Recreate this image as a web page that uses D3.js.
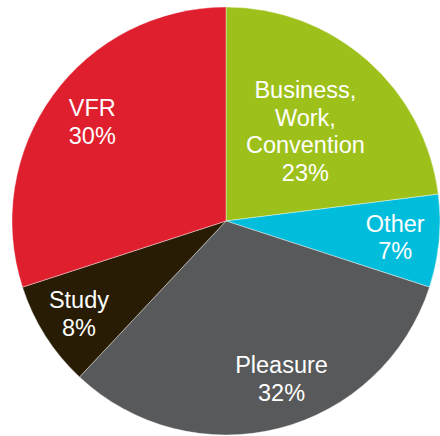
<!DOCTYPE html>
<html>
<head>
<meta charset="utf-8">
<script src="https://cdn.jsdelivr.net/npm/d3@7"></script>
<style>
  html, body { margin: 0; padding: 0; background: #fff; }
  svg { display: block; }
</style>
</head>
<body>
<svg id="chart" width="440" height="436"></svg>
<script>
// Trip purpose shares, clockwise from 12 o'clock
const categories = ["Business, Work, Convention", "Other", "Pleasure", "Study", "VFR"];
const labelLines = [["Business,", "Work,", "Convention"], ["Other"], ["Pleasure"], ["Study"], ["VFR"]];
const shares = [23, 7, 32, 8, 30];
const colors = ["#9dc11a", "#00bedb", "#58595b", "#281d04", "#df1e2e"];

const width = 440, height = 436;
const cx = 226, cy = 221, radius = 214;
const fontSize = 23.5, lineHeight = 27.5;

// label placement: radius along the slice bisector plus a small nudge
const labelPlace = {
  "Business, Work, Convention": { r: 120, dx: 0, dy: 0 },
  "Other": { r: 170, dx: 0, dy: 0 },
  "Pleasure": { r: 167, dx: 14, dy: -4 },
  "Study": { r: 173, dx: -1, dy: 0 },
  "VFR": { r: 169, dx: 3, dy: 0 }
};

const data = categories.map((c, i) => ({ name: c, lines: labelLines[i], value: shares[i], color: colors[i] }));

const svg = d3.select("#chart");
const g = svg.append("g").attr("transform", `translate(${cx},${cy})`);

const pie = d3.pie().value(d => d.value).sort(null);
const arc = d3.arc().innerRadius(0).outerRadius(radius);
const arcs = pie(data);

g.selectAll("path.slice")
  .data(arcs)
  .join("path")
  .attr("class", "slice")
  .attr("d", arc)
  .attr("fill", d => d.data.color)
  .attr("stroke", "#ffffff")
  .attr("stroke-width", 0.4);

g.selectAll("text.label")
  .data(arcs)
  .join("text")
  .attr("class", "label")
  .attr("font-family", "'Liberation Sans', Arial, sans-serif")
  .attr("font-size", fontSize)
  .attr("fill", "#ffffff")
  .attr("text-anchor", "middle")
  .each(function(d) {
    const p = labelPlace[d.data.name];
    const la = d3.arc().innerRadius(p.r).outerRadius(p.r);
    const [x0, y0] = la.centroid(d);
    const x = x0 + p.dx, y = y0 + p.dy;
    const lines = d.data.lines.concat([d.data.value + "%"]);
    const n = lines.length;
    const capHalf = fontSize * 0.716 / 2;
    const t = d3.select(this);
    lines.forEach((ln, i) => {
      t.append("tspan")
        .attr("x", x)
        .attr("y", y - (n - 1) * lineHeight / 2 + i * lineHeight + capHalf)
        .text(ln);
    });
  });
</script>
</body>
</html>
